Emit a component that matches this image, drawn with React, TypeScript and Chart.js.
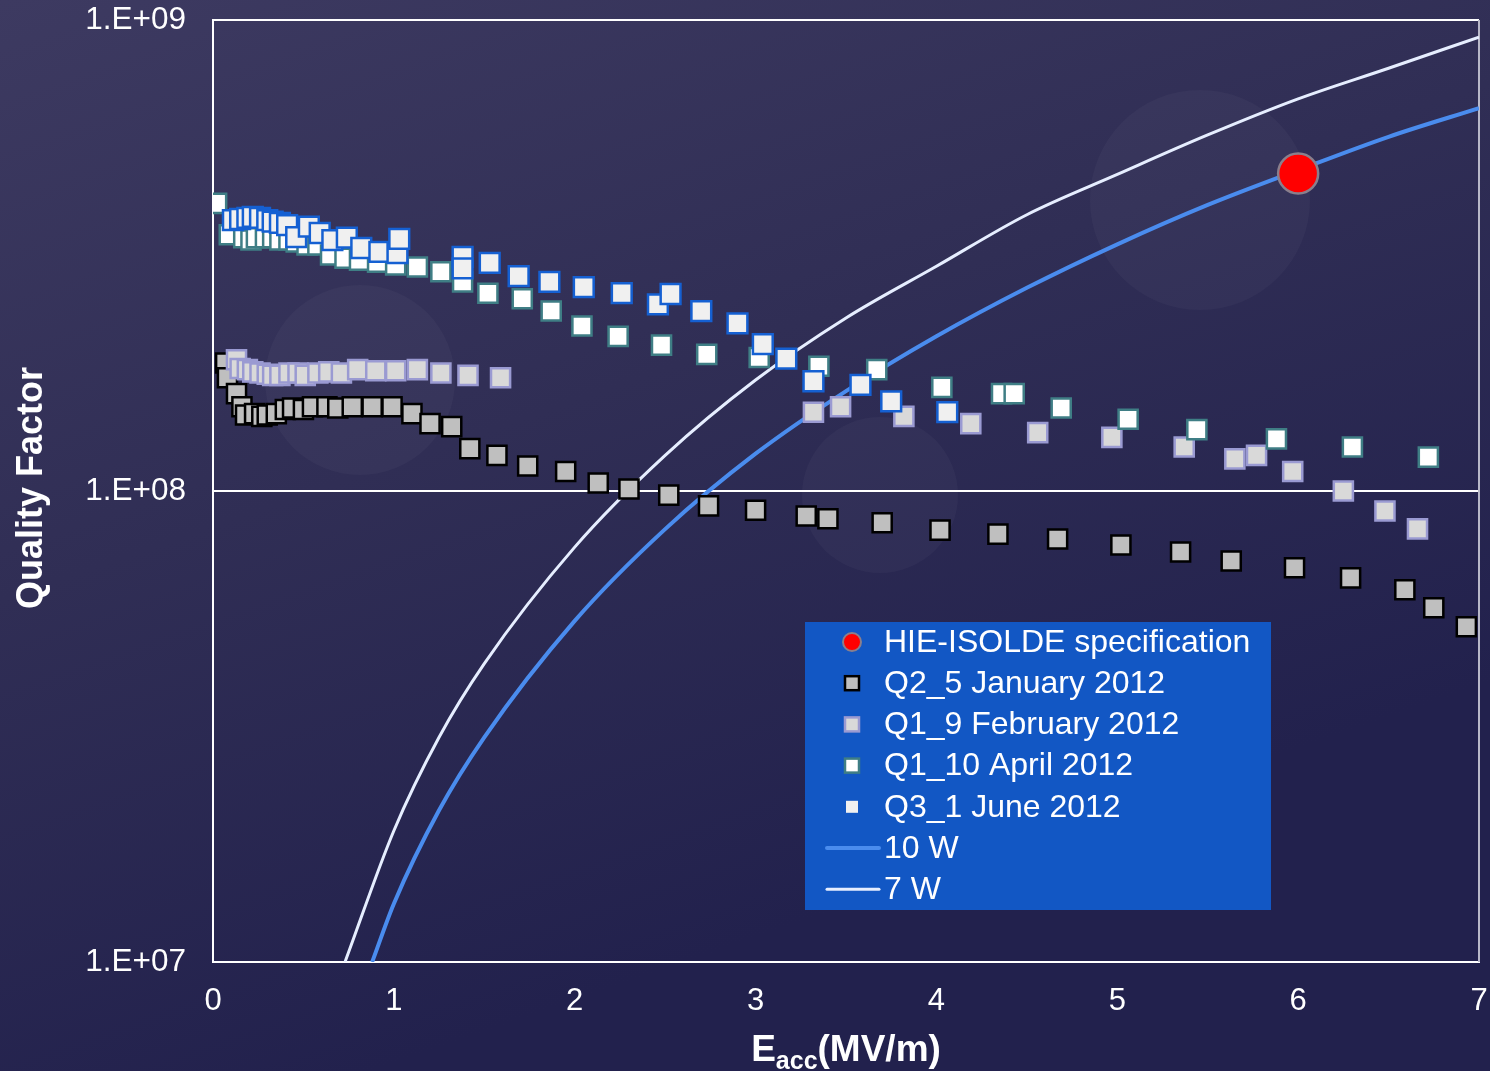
import React, { useEffect, useRef } from "react";
import { Chart, registerables } from "chart.js";

Chart.register(...registerables);

const FONT = '"Liberation Sans", Arial, Helvetica, sans-serif';

// ---- Data ----
const SERIES_LABELS = [
  "HIE-ISOLDE specification",
  "Q2_5 January 2012",
  "Q1_9 February 2012",
  "Q1_10 April 2012",
  "Q3_1 June 2012",
  "10 W",
  "7 W",
];

const SPEC_E = [6.0];
const SPEC_Q = [4.72e8];

const JAN_E = [0.07, 0.08, 0.13, 0.16, 0.18, 0.23, 0.27, 0.30, 0.35, 0.40, 0.44, 0.50, 0.55, 0.63, 0.69, 0.77, 0.88, 0.99, 1.10, 1.20, 1.32, 1.42, 1.57, 1.74, 1.95, 2.13, 2.30, 2.52, 2.74, 3.00, 3.28, 3.40, 3.70, 4.02, 4.34, 4.67, 5.02, 5.35, 5.63, 5.98, 6.29, 6.59, 6.75, 6.93];
const JAN_Q = [1.87e8, 1.74e8, 1.61e8, 1.51e8, 1.45e8, 1.46e8, 1.44e8, 1.45e8, 1.46e8, 1.49e8, 1.50e8, 1.49e8, 1.51e8, 1.51e8, 1.50e8, 1.51e8, 1.51e8, 1.51e8, 1.46e8, 1.39e8, 1.37e8, 1.23e8, 1.19e8, 1.13e8, 1.10e8, 1.04e8, 1.01e8, 9.8e7, 9.3e7, 9.1e7, 8.85e7, 8.73e7, 8.56e7, 8.26e7, 8.1e7, 7.91e7, 7.68e7, 7.42e7, 7.1e7, 6.87e7, 6.54e7, 6.17e7, 5.65e7, 5.15e7];

const FEB_E = [0.13, 0.15, 0.19, 0.22, 0.26, 0.30, 0.33, 0.37, 0.42, 0.47, 0.51, 0.58, 0.64, 0.71, 0.80, 0.90, 1.01, 1.13, 1.26, 1.41, 1.59, 3.32, 3.47, 3.82, 4.19, 4.56, 4.97, 5.37, 5.65, 5.77, 5.97, 6.25, 6.48, 6.66];
const FEB_Q = [1.90e8, 1.82e8, 1.81e8, 1.79e8, 1.78e8, 1.77e8, 1.76e8, 1.76e8, 1.78e8, 1.78e8, 1.76e8, 1.78e8, 1.79e8, 1.78e8, 1.81e8, 1.80e8, 1.80e8, 1.81e8, 1.78e8, 1.76e8, 1.74e8, 1.47e8, 1.51e8, 1.44e8, 1.39e8, 1.33e8, 1.30e8, 1.24e8, 1.17e8, 1.19e8, 1.10e8, 1.00e8, 9.07e7, 8.31e7];

const APR_E = [0.02, 0.09, 0.17, 0.21, 0.24, 0.29, 0.33, 0.37, 0.42, 0.46, 0.52, 0.58, 0.65, 0.73, 0.81, 0.91, 1.01, 1.13, 1.26, 1.38, 1.52, 1.71, 1.87, 2.04, 2.24, 2.48, 2.73, 3.02, 3.35, 3.67, 4.03, 4.36, 4.43, 4.69, 5.06, 5.44, 5.88, 6.30, 6.72];
const APR_Q = [4.08e8, 3.50e8, 3.45e8, 3.41e8, 3.45e8, 3.45e8, 3.45e8, 3.41e8, 3.41e8, 3.38e8, 3.33e8, 3.33e8, 3.17e8, 3.12e8, 3.09e8, 3.06e8, 3.02e8, 2.99e8, 2.92e8, 2.78e8, 2.63e8, 2.56e8, 2.41e8, 2.24e8, 2.13e8, 2.04e8, 1.95e8, 1.92e8, 1.84e8, 1.81e8, 1.66e8, 1.61e8, 1.61e8, 1.50e8, 1.42e8, 1.35e8, 1.29e8, 1.24e8, 1.18e8];

const JUN_E = [0.11, 0.15, 0.19, 0.22, 0.26, 0.30, 0.33, 0.37, 0.41, 0.46, 0.53, 0.59, 0.66, 0.74, 0.82, 0.92, 1.02, 1.03, 1.38, 1.38, 1.53, 1.69, 1.86, 2.05, 2.26, 2.46, 2.53, 2.70, 2.90, 3.04, 3.17, 3.32, 3.58, 3.75, 4.06];
const JUN_Q = [3.76e8, 3.78e8, 3.80e8, 3.82e8, 3.80e8, 3.76e8, 3.73e8, 3.71e8, 3.67e8, 3.46e8, 3.64e8, 3.53e8, 3.41e8, 3.45e8, 3.28e8, 3.22e8, 3.20e8, 3.43e8, 3.14e8, 2.97e8, 3.05e8, 2.86e8, 2.78e8, 2.71e8, 2.63e8, 2.49e8, 2.62e8, 2.41e8, 2.27e8, 2.05e8, 1.91e8, 1.71e8, 1.68e8, 1.55e8, 1.47e8];

const W10_E = [0.88, 1, 1.25, 1.5, 2, 2.5, 3, 3.5, 4, 4.5, 5, 5.5, 6, 6.5, 7];
const W10_Q = [1.0e7, 1.33e7, 2.1e7, 3.0e7, 5.3e7, 8.3e7, 1.2e8, 1.63e8, 2.13e8, 2.7e8, 3.34e8, 4.05e8, 4.8e8, 5.65e8, 6.5e8];

const W7_E = [0.73, 1, 1.25, 1.5, 2, 2.5, 3, 3.5, 4, 4.5, 5, 5.5, 6, 6.5, 7];
const W7_Q = [1.0e7, 1.9e7, 3.0e7, 4.3e7, 7.6e7, 1.19e8, 1.72e8, 2.33e8, 3.0e8, 3.86e8, 4.7e8, 5.7e8, 6.8e8, 7.9e8, 9.2e8];

const Y_TICKS = [1e7, 1e8, 1e9];
const X_MIN = 0;
const X_MAX = 7;

const pts = (xs: number[], ys: number[]) => xs.map((x, i) => ({ x, y: ys[i] }));

const bgPlugin = {
  id: "bgPlugin",
  beforeDraw(chart: any) {
    const { ctx, width, height } = chart;
    ctx.save();
    const g = ctx.createLinearGradient(0, 0, width * 0.25, height);
    g.addColorStop(0, "#3d3a61");
    g.addColorStop(0.5, "#302e55");
    g.addColorStop(1, "#22214d");
    ctx.fillStyle = g;
    ctx.fillRect(0, 0, width, height);
    // faint decorative discs of the slide background
    ctx.fillStyle = "rgba(255,255,255,0.03)";
    const discs = [
      [360, 380, 95],
      [1200, 200, 110],
      [880, 495, 78],
    ];
    for (const [cx, cy, r] of discs) {
      ctx.beginPath();
      ctx.arc(cx, cy, r, 0, Math.PI * 2);
      ctx.fill();
    }
    ctx.restore();
  },
  beforeDatasetsDraw(chart: any) {
    const { ctx, chartArea } = chart;
    ctx.save();
    ctx.lineWidth = 2;
    ctx.strokeStyle = "#ffffff";
    ctx.beginPath();
    ctx.moveTo(chartArea.left, chartArea.top);
    ctx.lineTo(chartArea.right, chartArea.top);
    ctx.stroke();
    ctx.strokeStyle = "#b8b8c8";
    ctx.beginPath();
    ctx.moveTo(chartArea.right, chartArea.top);
    ctx.lineTo(chartArea.right, chartArea.bottom);
    ctx.stroke();
    ctx.restore();
  },
};

const overlayPlugin = {
  id: "overlayPlugin",
  afterDraw(chart: any) {
    const { ctx, chartArea } = chart;
    ctx.save();
    ctx.fillStyle = "#ffffff";
    // y title
    ctx.save();
    ctx.translate(32, 488);
    ctx.rotate(-Math.PI / 2);
    ctx.font = `bold 36px ${FONT}`;
    ctx.textAlign = "center";
    ctx.textBaseline = "middle";
    ctx.fillText("Quality Factor", 0, 0);
    ctx.restore();

    // x title with subscript
    const big = `bold 37px ${FONT}`;
    const small = `bold 25px ${FONT}`;
    ctx.font = big;
    const wE = ctx.measureText("E").width;
    const wRest = ctx.measureText("(MV/m)").width;
    ctx.font = small;
    const wSub = ctx.measureText("acc").width;
    const total = wE + wSub + wRest;
    let x = (chartArea.left + chartArea.right) / 2 - total / 2;
    const base = 1061;
    ctx.textAlign = "left";
    ctx.textBaseline = "alphabetic";
    ctx.font = big;
    ctx.fillText("E", x, base);
    x += wE;
    ctx.font = small;
    ctx.fillText("acc", x, base + 8);
    x += wSub;
    ctx.font = big;
    ctx.fillText("(MV/m)", x, base);

    // legend
    const lx = 805, ly = 622, lw = 466, lh = 288;
    ctx.fillStyle = "#1257c4";
    ctx.fillRect(lx, ly, lw, lh);
    const rowY = (i: number) => 642 + i * 41.2;
    const mx = 852;
    const ds = chart.data.datasets;
    ctx.font = `32px ${FONT}`;
    ctx.textBaseline = "middle";
    ds.forEach((d: any, i: number) => {
      const y = rowY(i);
      if (d.showLine) {
        ctx.strokeStyle = d.borderColor;
        ctx.lineWidth = d.borderWidth;
        ctx.lineCap = "round";
        ctx.beginPath();
        ctx.moveTo(827, y);
        ctx.lineTo(879, y);
        ctx.stroke();
      } else if (d.pointStyle === "circle") {
        ctx.beginPath();
        ctx.arc(mx, y, 9, 0, Math.PI * 2);
        ctx.fillStyle = d.backgroundColor;
        ctx.fill();
        ctx.strokeStyle = d.borderColor;
        ctx.lineWidth = 2;
        ctx.stroke();
      } else if (d.legendPlain) {
        ctx.fillStyle = d.backgroundColor;
        ctx.fillRect(mx - 6, y - 6, 12, 12);
      } else {
        ctx.fillStyle = d.backgroundColor;
        ctx.fillRect(mx - 7, y - 7, 14, 14);
        ctx.strokeStyle = d.borderColor;
        ctx.lineWidth = 2.5;
        ctx.strokeRect(mx - 7, y - 7, 14, 14);
      }
      ctx.fillStyle = "#ffffff";
      ctx.textAlign = "left";
      ctx.fillText(d.label, 884, y + 1);
    });
    ctx.restore();
  },
};

export default function App() {
  const ref = useRef<HTMLCanvasElement | null>(null);

  useEffect(() => {
    document.body.style.margin = "0";
    const canvas = ref.current;
    if (!canvas) return;
    const squareBase = {
      showLine: false,
      pointStyle: "rect",
      pointRadius: 13.5,
      pointBorderWidth: 2.5,
    };
    const chart = new Chart(canvas, {
      type: "scatter",
      data: {
        datasets: [
          {
            label: SERIES_LABELS[0],
            data: pts(SPEC_E, SPEC_Q),
            showLine: false,
            pointStyle: "circle",
            pointRadius: 20,
            pointBorderWidth: 2.5,
            backgroundColor: "#ff0000",
            borderColor: "#8a7f8c",
            order: 0,
          },
          {
            label: SERIES_LABELS[1],
            data: pts(JAN_E, JAN_Q),
            ...squareBase,
            backgroundColor: "#bfbfbf",
            borderColor: "#000000",
            order: 4,
          },
          {
            label: SERIES_LABELS[2],
            data: pts(FEB_E, FEB_Q),
            ...squareBase,
            backgroundColor: "#d9d9d9",
            borderColor: "#9a9ad2",
            order: 3,
          },
          {
            label: SERIES_LABELS[3],
            data: pts(APR_E, APR_Q),
            ...squareBase,
            backgroundColor: "#ffffff",
            borderColor: "#3f7e85",
            order: 2,
          },
          {
            label: SERIES_LABELS[4],
            data: pts(JUN_E, JUN_Q),
            ...squareBase,
            pointRadius: 14,
            backgroundColor: "#f0f0f0",
            borderColor: "#1560d2",
            legendPlain: true,
            order: 1,
          },
          {
            label: SERIES_LABELS[5],
            data: pts(W10_E, W10_Q),
            showLine: true,
            pointRadius: 0,
            borderWidth: 4,
            borderColor: "#4a8cee",
            backgroundColor: "#4a8cee",
            cubicInterpolationMode: "monotone",
            order: 5,
          },
          {
            label: SERIES_LABELS[6],
            data: pts(W7_E, W7_Q),
            showLine: true,
            pointRadius: 0,
            borderWidth: 3,
            borderColor: "#e6eeff",
            backgroundColor: "#e6eeff",
            cubicInterpolationMode: "monotone",
            order: 6,
          },
        ] as any,
      },
      options: {
        responsive: false,
        devicePixelRatio: 1,
        animation: false,
        layout: { autoPadding: false, padding: { left: 0, top: 20, right: 11, bottom: 0 } },
        plugins: {
          legend: { display: false },
          tooltip: { enabled: false },
        },
        scales: {
          x: {
            type: "linear",
            min: X_MIN,
            max: X_MAX,
            afterFit: (s: any) => {
              s.height = 109;
              s.paddingLeft = 0;
              s.paddingRight = 0;
            },
            ticks: {
              stepSize: 1,
              color: "#ffffff",
              font: { family: FONT, size: 31 },
              padding: 21,
              callback: (v: any) => String(v),
            },
            grid: { display: false, drawTicks: false },
            border: { display: true, color: "#ffffff", width: 2 },
          },
          y: {
            type: "logarithmic",
            min: Y_TICKS[0],
            max: Y_TICKS[Y_TICKS.length - 1],
            afterFit: (s: any) => {
              s.width = 213;
              s.paddingTop = 0;
              s.paddingBottom = 0;
            },
            afterBuildTicks: (s: any) => {
              s.ticks = Y_TICKS.map((v) => ({ value: v }));
            },
            ticks: {
              color: "#ffffff",
              font: { family: FONT, size: 31.5 },
              padding: 27,
              autoSkip: false,
              callback: (v: any) =>
                "1.E+" + String(Math.round(Math.log10(Number(v)))).padStart(2, "0"),
            },
            grid: { color: "#ffffff", lineWidth: 2, drawTicks: false },
            border: { display: true, color: "#ffffff", width: 2 },
          },
        },
      } as any,
      plugins: [bgPlugin, overlayPlugin],
    });
    return () => chart.destroy();
  }, []);

  return (
    <div style={{ width: 1490, height: 1071, overflow: "hidden" }}>
      <canvas ref={ref} width={1490} height={1071} style={{ display: "block" }} />
    </div>
  );
}
